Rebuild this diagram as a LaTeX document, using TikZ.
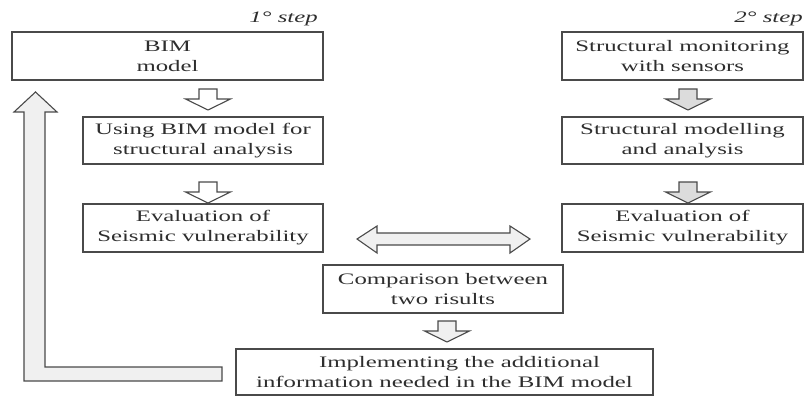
\documentclass[tikz,border=0pt]{standalone}
\usepackage{fontspec}
\setmainfont[FakeStretch=1.55]{Liberation Serif}
\definecolor{boxgray}{HTML}{4A4A4A}
\definecolor{txtgray}{HTML}{2E2E2E}
\definecolor{lightfill}{HTML}{F0F0F0}
\definecolor{midfill}{HTML}{DCDCDC}
\begin{document}
\begin{tikzpicture}[x=1pt,y=-1pt,
  box/.style={draw=boxgray, line width=1.2pt, inner sep=0pt, align=center,
    minimum height=48pt, font=\fontsize{16}{20}\selectfont, text=txtgray},
  steplabel/.style={font=\fontsize{16}{20}\selectfont\itshape, text=txtgray, inner sep=0pt},
  arrowline/.style={draw=boxgray, line width=1.1pt, line join=miter},
  pics/downarr/.style={code={
    \draw[arrowline, fill=#1] (-9,0) -- (9,0) -- (9,10) -- (22.5,10) -- (0,21) -- (-22.5,10) -- (-9,10) -- cycle;}}
]
\useasboundingbox (0,0) rectangle (804,396);

% step labels
\node[steplabel, anchor=east] (s1) at (318,19) {1° step};
\node[steplabel, anchor=east] (s2) at (803,19) {2° step};

% left column
\node[box, minimum width=311pt] (bim) at (167.5,56) {BIM\\model};
\node[box, minimum width=240pt, minimum height=47pt] (use) at (203,140.5) {Using BIM model for\\structural analysis};
\node[box, minimum width=240pt] (eval1) at (203,228) {Evaluation of\\Seismic vulnerability};

% right column
\node[box, minimum width=241pt] (mon) at (682.5,56) {Structural monitoring\\with sensors};
\node[box, minimum width=241pt, minimum height=47pt] (mod) at (682.5,140.5) {Structural modelling\\and analysis};
\node[box, minimum width=241pt] (eval2) at (682.5,228) {Evaluation of\\Seismic vulnerability};

% bottom
\node[box, minimum width=240pt] (comp) at (443,289) {Comparison between\\two risults};
\node[box, minimum width=417pt, minimum height=46pt] (impl) at (444.5,372) {\hspace*{30pt}Implementing the additional\\information needed in the BIM model};

% down arrows
\pic at (208,89) {downarr=white};
\pic at (208,182) {downarr=white};
\pic at (688,89) {downarr=midfill};
\pic at (688,182) {downarr=midfill};
\pic at (447,321) {downarr=lightfill};

% double arrow
\draw[arrowline, fill=lightfill] (357,239) -- (377,226) -- (377,233) -- (510,233) -- (510,226) -- (530,239)
  -- (510,253) -- (510,245) -- (377,245) -- (377,253) -- cycle;

% feedback L arrow
\draw[arrowline, fill=lightfill] (35.5,92) -- (57,112) -- (45,112) -- (45,367) -- (222,367) -- (222,381)
  -- (24,381) -- (24,112) -- (14,112) -- cycle;
\end{tikzpicture}
\end{document}
